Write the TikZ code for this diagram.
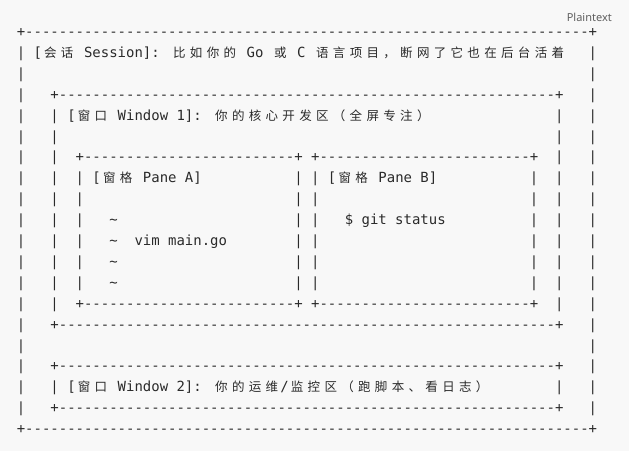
\documentclass[tikz,border=0pt]{standalone}
\usepackage{fontspec}
\newfontfamily\mono{DejaVu Sans Mono}
\newfontfamily\cjk{Noto Sans CJK SC}
\newfontfamily\uisans{Noto Sans}
\definecolor{bg}{HTML}{F8F8F8}
\definecolor{ink}{HTML}{2A2A2A}
\definecolor{labgray}{HTML}{5F5F5F}
\newcount\repn
\newcommand\rep[1]{\repn=#1\relax\loop\ifnum\repn>0 -\kern0pt\advance\repn by -1 \repeat}
\newcommand\cj[1]{\makebox[16.82pt]{\fontsize{12.5pt}{14pt}\selectfont\cjk #1}}
\def\cjs#1{\cjsA#1\relax}
\def\cjsA#1{\ifx\relax#1\else\cj{#1}\expandafter\cjsA\fi}
\tikzset{seg/.style={anchor=base west, inner sep=0pt, outer sep=0pt, text=ink,
  font=\fontsize{13.97pt}{16pt}\selectfont\mono}}
\newcommand\seg[4]{\node[seg] (#1) at ({16.795+#3*8.41},{36.5+#2*20.9}) {#4};}
\newcommand\barsat[2]{\foreach \bcol in {#2}{\node[seg,name=bar#1x\bcol] at ({16.795+\bcol*8.41},{36.5+#1*20.9}) {|};}}
\begin{document}
\begin{tikzpicture}[x=1pt,y=-1pt]
\fill[bg] (0,0) rectangle (629,451);
\useasboundingbox (0,0) rectangle (629,451);
\node[anchor=base east, inner sep=0pt, text=labgray, font=\fontsize{11pt}{13pt}\selectfont\uisans] (plain) at (612,21) {Plaintext};
% outer session box
\seg{outtop}{0}{0}{+\rep{67}+}
\barsat{1}{0,68}
\seg{sess}{1}{2}{[\cjs{会话} Session]: \cjs{比如你的} Go \cjs{或} C \cjs{语言项目，断网了它也在后台活着}}
\barsat{2}{0,68}
% window 1
\barsat{3}{0,68}
\seg{w1top}{3}{4}{+\rep{59}+}
\barsat{4}{0,4,64,68}
\seg{w1txt}{4}{6}{[\cjs{窗口} Window 1]: \cjs{你的核心开发区（全屏专注）}}
\barsat{5}{0,4,64,68}
\barsat{6}{0,4,64,68}
\seg{patop}{6}{7}{+\rep{25}+}
\seg{pbtop}{6}{35}{+\rep{25}+}
\barsat{7}{0,4,7,33,35,61,64,68}
\seg{patxt}{7}{9}{[\cjs{窗格} Pane A]}
\seg{pbtxt}{7}{37}{[\cjs{窗格} Pane B]}
\barsat{8}{0,4,7,33,35,61,64,68}
\barsat{9}{0,4,7,33,35,61,64,68}
\seg{tilA}{9}{11}{\textasciitilde}
\seg{git}{9}{39}{\$ git status}
\barsat{10}{0,4,7,33,35,61,64,68}
\seg{tilB}{10}{11}{\textasciitilde}
\seg{vim}{10}{14}{vim main.go}
\barsat{11}{0,4,7,33,35,61,64,68}
\seg{tilC}{11}{11}{\textasciitilde}
\barsat{12}{0,4,7,33,35,61,64,68}
\seg{tilD}{12}{11}{\textasciitilde}
\barsat{13}{0,4,64,68}
\seg{pabot}{13}{7}{+\rep{25}+}
\seg{pbbot}{13}{35}{+\rep{25}+}
\barsat{14}{0,68}
\seg{w1bot}{14}{4}{+\rep{59}+}
\barsat{15}{0,68}
% window 2
\barsat{16}{0,68}
\seg{w2top}{16}{4}{+\rep{59}+}
\barsat{17}{0,4,64,68}
\seg{w2txt}{17}{6}{[\cjs{窗口} Window 2]: \cjs{你的运维}/\cjs{监控区（跑脚本、看日志）}}
\barsat{18}{0,68}
\seg{w2bot}{18}{4}{+\rep{59}+}
\seg{outbot}{19}{0}{+\rep{67}+}
\end{tikzpicture}
\end{document}
